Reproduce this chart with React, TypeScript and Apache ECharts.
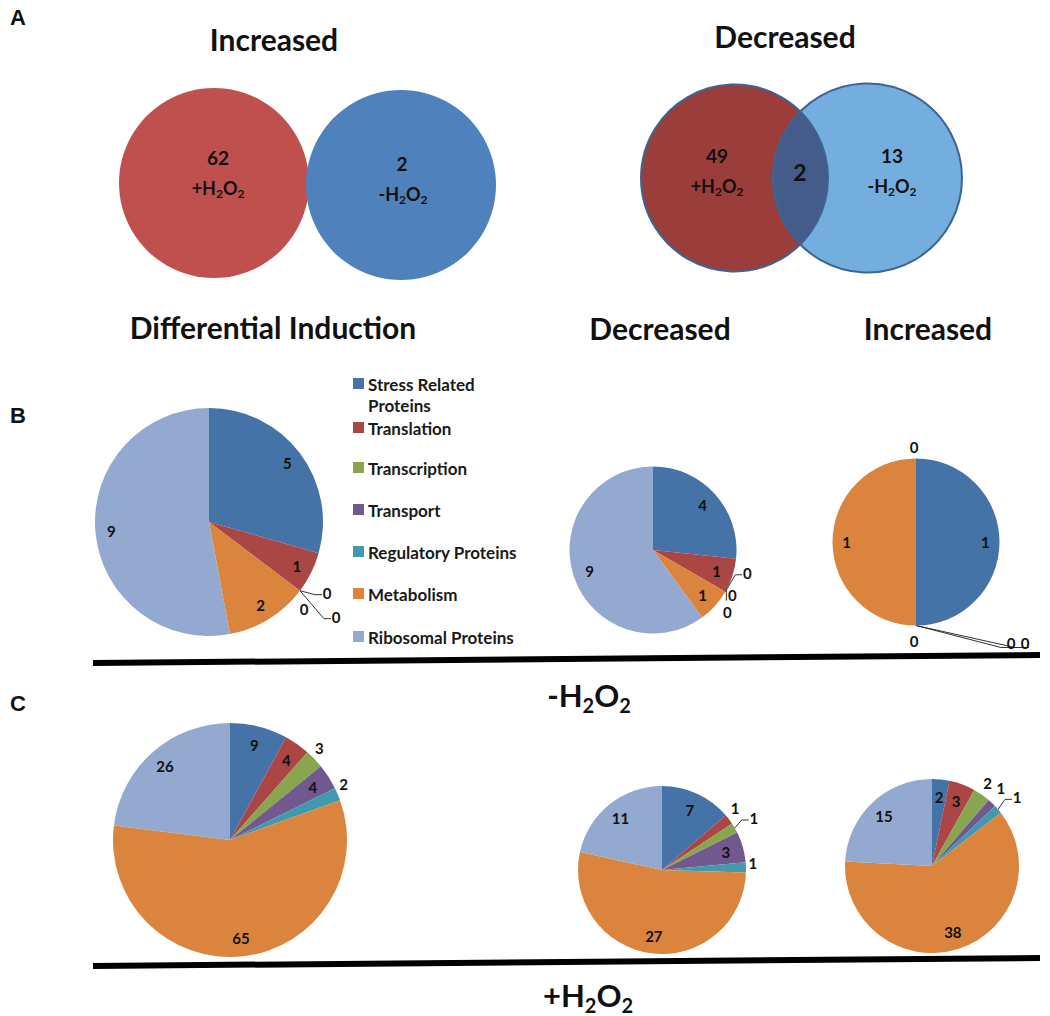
import React, { useEffect, useRef } from "react";
import * as echarts from "echarts";

// ---------- data ----------
const categories = [
  "Stress Related Proteins",
  "Translation",
  "Transcription",
  "Transport",
  "Regulatory Proteins",
  "Metabolism",
  "Ribosomal Proteins",
];
const minusDifferential = [5, 1, 0, 0, 0, 2, 9];
const minusDecreased = [4, 1, 0, 0, 0, 1, 9];
const minusIncreased = [1, 0, 0, 0, 0, 1, 0];
const plusDifferential = [9, 4, 3, 4, 2, 65, 26];
const plusDecreased = [7, 1, 1, 3, 1, 27, 11];
const plusIncreased = [2, 3, 2, 1, 1, 38, 15];

const vennIncreased = [62, 2]; // +H2O2 only, -H2O2 only
const vennDecreased = [49, 2, 13]; // +H2O2 only, shared, -H2O2 only

const panelTitles = ["Increased", "Decreased"];
const columnTitles = ["Differential Induction", "Decreased", "Increased"];

// ---------- styles ----------
const palette = ["#4572A7", "#AA4643", "#89A54E", "#71588F", "#4198AF", "#DB843D", "#93A9CF"];
const FONT = 'Lato, "Open Sans", sans-serif';
const LETTER_FONT = '"Liberation Sans", Arial, sans-serif';

type Out = { dx: number; dy: number; line?: "h" | "v" | "long" | "none"; hide?: boolean };

function pieSeries(
  values: number[],
  cx: number,
  cy: number,
  r: number,
  k: number,
  outside: Record<number, Out>
) {
  const total = values.reduce((a, b) => a + b, 0);
  let cum = 0;
  const mids = values.map((v) => {
    const m = ((cum + v / 2) / total) * Math.PI * 2;
    cum += v;
    return m;
  });
  const data = values.map((v, i) => {
    const o = outside[i];
    return {
      value: v,
      name: categories[i],
      label: { show: !(o && o.hide), position: o ? "outside" : "inside" },
      labelLine: { show: !!(o && o.line && o.line !== "none") },
    };
  });
  return {
    type: "pie",
    center: [cx, cy],
    radius: r,
    startAngle: 90,
    clockwise: true,
    avoidLabelOverlap: false,
    silent: true,
    data,
    itemStyle: { borderWidth: 0 },
    label: {
      formatter: "{c}",
      fontFamily: FONT,
      fontWeight: "bold",
      fontSize: 15,
      color: "#111",
    },
    labelLine: { length: 4, length2: 4, lineStyle: { color: "#333", width: 1 } },
    emphasis: { disabled: true },
    labelLayout: (p: any) => {
      const i = p.dataIndex;
      const a = mids[i];
      const o = outside[i];
      if (o) {
        const ax = cx + r * Math.sin(a);
        const ay = cy - r * Math.cos(a);
        const lx = ax + o.dx;
        const ly = ay + o.dy;
        const res: any = { x: lx, y: ly, align: "center", verticalAlign: "middle" };
        if (o.line === "h") {
          res.labelLinePoints = [
            [ax, ay],
            [lx - 12, ly + 2],
            [lx - 5, ly + 2],
          ];
        } else if (o.line === "v") {
          res.labelLinePoints = [
            [ax, ay],
            [lx - 6, ly - 6],
            [lx - 6, ly + 6],
          ];
        } else if (o.line === "long") {
          res.labelLinePoints = [
            [ax, ay],
            [lx - 10, ly + 5],
            [lx + 4, ly + 5],
          ];
        }
        return res;
      }
      return {
        x: cx + k * r * Math.sin(a),
        y: cy - k * r * Math.cos(a),
        align: "center",
        verticalAlign: "middle",
      };
    },
  };
}

function lensPoints(
  x1: number, y1: number, r1: number,
  x2: number, y2: number, r2: number
) {
  const dx = x2 - x1, dy = y2 - y1;
  const d = Math.sqrt(dx * dx + dy * dy);
  const a = (r1 * r1 - r2 * r2 + d * d) / (2 * d);
  const h = Math.sqrt(r1 * r1 - a * a);
  const bx = x1 + (a * dx) / d, by = y1 + (a * dy) / d;
  const px = (-dy / d) * h, py = (dx / d) * h;
  const P1 = [bx - px, by - py];
  const P2 = [bx + px, by + py];
  const pts: number[][] = [];
  const a1s = Math.atan2(P1[1] - y1, P1[0] - x1);
  const a1e = Math.atan2(P2[1] - y1, P2[0] - x1);
  const N = 40;
  for (let i = 0; i <= N; i++) {
    const t = a1s + ((a1e - a1s) * i) / N;
    pts.push([x1 + r1 * Math.cos(t), y1 + r1 * Math.sin(t)]);
  }
  const a2s = Math.atan2(P2[1] - y2, P2[0] - x2);
  let a2e = Math.atan2(P1[1] - y2, P1[0] - x2);
  if (a2e < a2s) a2e += Math.PI * 2;
  for (let i = 0; i <= N; i++) {
    const t = a2s + ((a2e - a2s) * i) / N;
    pts.push([x2 + r2 * Math.cos(t), y2 + r2 * Math.sin(t)]);
  }
  return pts;
}

function txt(x: number, y: number, text: string, size: number, extra: any = {}) {
  return {
    type: "text",
    x,
    y,
    silent: true,
    style: {
      text,
      fontFamily: FONT,
      fontWeight: "bold",
      fontSize: size,
      fill: "#111",
      align: "center",
      verticalAlign: "middle",
      ...extra,
    },
  };
}

function h2o2(x: number, y: number, sign: string, size: number, sub: number) {
  return {
    type: "text",
    x,
    y,
    silent: true,
    style: {
      text: `${sign}H{s|2}O{s|2}`,
      fontFamily: FONT,
      fontWeight: "bold",
      fontSize: size,
      lineHeight: Math.round(size * 1.3),
      fill: "#111",
      align: "center",
      verticalAlign: "middle",
      rich: {
        s: {
          fontFamily: FONT,
          fontWeight: "bold",
          fontSize: sub,
          lineHeight: Math.round(sub * 1.1),
          verticalAlign: "bottom",
          fill: "#111",
        },
      },
    },
  };
}

export default function App() {
  const ref = useRef<HTMLDivElement>(null);
  useEffect(() => {
    document.body.style.margin = "0";
    if (!ref.current) return;
    const chart = echarts.init(ref.current, undefined, { renderer: "svg" });

    const legendY = [384, 428, 468, 510, 552, 594, 637];
    const legendLabels = categories.map((c) =>
      c === "Stress Related Proteins" ? "Stress Related\nProteins" : c
    );

    const graphics: any[] = [];
    // panel letters
    graphics.push(txt(18, 17, "A", 22, { fontFamily: LETTER_FONT }));
    graphics.push(txt(18, 415, "B", 22, { fontFamily: LETTER_FONT }));
    graphics.push(txt(18, 703, "C", 22, { fontFamily: LETTER_FONT }));

    // Venn titles
    graphics.push(txt(274, 39, panelTitles[0], 30));
    graphics.push(txt(785, 36, panelTitles[1], 30));

    // Increased Venn
    graphics.push({ type: "circle", silent: true, shape: { cx: 214, cy: 183, r: 95 }, style: { fill: "#C0504D" } });
    graphics.push({ type: "circle", silent: true, shape: { cx: 401, cy: 185, r: 95 }, style: { fill: "#4F81BD" } });
    graphics.push(txt(218, 157, String(vennIncreased[0]), 19));
    graphics.push(h2o2(218, 188, "+", 18, 12));
    graphics.push(txt(402, 163, String(vennIncreased[1]), 19));
    graphics.push(h2o2(403, 194, "-", 18, 12));

    // Decreased Venn
    const c1 = [734.5, 178, 93.5];
    const c2 = [867.5, 178, 94.5];
    graphics.push({ type: "circle", silent: true, shape: { cx: c1[0], cy: c1[1], r: c1[2] }, style: { fill: "#9A3D3B" } });
    graphics.push({ type: "circle", silent: true, shape: { cx: c2[0], cy: c2[1], r: c2[2] }, style: { fill: "#73AEDE" } });
    graphics.push({
      type: "polygon",
      silent: true,
      shape: { points: lensPoints(c1[0], c1[1], c1[2], c2[0], c2[1], c2[2]) },
      style: { fill: "#435C8A" },
    });
    graphics.push({ type: "circle", silent: true, shape: { cx: c1[0], cy: c1[1], r: c1[2] }, style: { fill: "none", stroke: "#3C6494", lineWidth: 2 } });
    graphics.push({ type: "circle", silent: true, shape: { cx: c2[0], cy: c2[1], r: c2[2] }, style: { fill: "none", stroke: "#3C6494", lineWidth: 2 } });
    graphics.push(txt(717, 155, String(vennDecreased[0]), 19));
    graphics.push(h2o2(717, 186, "+", 18, 12));
    graphics.push(txt(800, 172, String(vennDecreased[1]), 23));
    graphics.push(txt(892, 155, String(vennDecreased[2]), 19));
    graphics.push(h2o2(892, 186, "-", 18, 12));

    // column titles
    graphics.push(txt(273, 327, columnTitles[0], 30));
    graphics.push(txt(660, 328, columnTitles[1], 30));
    graphics.push(txt(928, 328, columnTitles[2], 30));

    // legend
    categories.forEach((c, i) => {
      graphics.push({
        type: "rect",
        silent: true,
        shape: { x: 353, y: legendY[i] - 6, width: 11, height: 11 },
        style: { fill: palette[i] },
      });
      graphics.push({
        type: "text",
        silent: true,
        x: 368,
        y: legendY[i] - 10,
        style: {
          text: legendLabels[i],
          fontFamily: FONT,
          fontWeight: "bold",
          fontSize: 17,
          lineHeight: 21,
          fill: "#1a1a1a",
          align: "left",
          verticalAlign: "top",
        },
      });
    });

    // separator lines
    graphics.push({ type: "line", silent: true, shape: { x1: 93, y1: 663, x2: 1040, y2: 655 }, style: { stroke: "#000", lineWidth: 6 } });
    graphics.push({ type: "line", silent: true, shape: { x1: 93, y1: 966, x2: 1040, y2: 958 }, style: { stroke: "#000", lineWidth: 6 } });

    // condition labels
    graphics.push(h2o2(589, 695, "-", 31, 20));
    graphics.push(h2o2(588, 995, "+", 31, 20));

    const series = [
      pieSeries(minusDifferential, 209, 522, 114, 0.86, {
        2: { dx: 27, dy: 2, line: "h" },
        3: { dx: 4, dy: 18, line: "none" },
        4: { dx: 36, dy: 26, line: "h" },
      }),
      pieSeries(minusDecreased, 653, 550, 83.5, 0.8, {
        2: { dx: 22, dy: -19, line: "h" },
        3: { dx: 7, dy: 3, line: "v" },
        4: { dx: 2, dy: 20, line: "none" },
      }),
      pieSeries(minusIncreased, 916, 542, 83.5, 0.83, {
        1: { dx: -2, dy: 15, line: "none" },
        2: { dx: -2, dy: 15, line: "none", hide: true },
        3: { dx: 95, dy: 17, line: "long" },
        4: { dx: 109, dy: 17, line: "long" },
        6: { dx: -2, dy: -12, line: "none" },
      }),
      pieSeries(plusDifferential, 230, 840, 117, 0.84, {
        2: { dx: 5, dy: -11, line: "none" },
        4: { dx: 6, dy: -10, line: "none" },
      }),
      pieSeries(plusDecreased, 662, 870, 84, 0.79, {
        1: { dx: 6, dy: -11, line: "none" },
        2: { dx: 19, dy: -10, line: "h" },
        4: { dx: 7, dy: -4, line: "none" },
      }),
      pieSeries(plusIncreased, 932, 866, 87, 0.8, {
        2: { dx: 6, dy: -12, line: "none" },
        3: { dx: 9, dy: -15, line: "none" },
        4: { dx: 19, dy: -12, line: "h" },
      }),
    ];

    chart.setOption({
      animation: false,
      backgroundColor: "#ffffff",
      color: palette,
      series,
      graphic: { elements: graphics },
    } as any);

    return () => chart.dispose();
  }, []);

  return <div ref={ref} style={{ width: 1050, height: 1016 }} />;
}
